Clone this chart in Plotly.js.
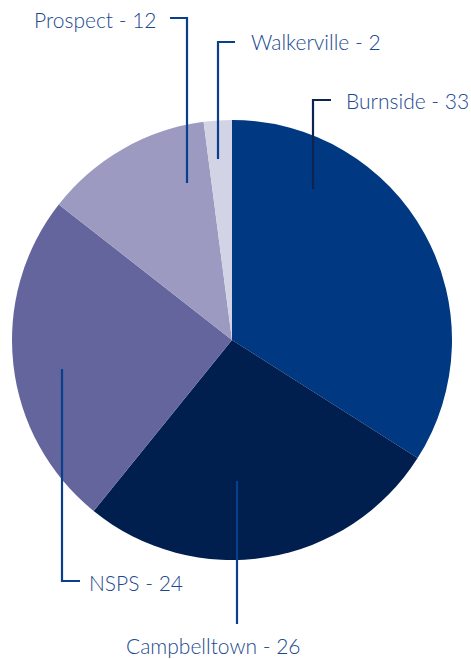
<!DOCTYPE html>
<html>
<head>
<meta charset="utf-8">
<script src="https://cdn.plot.ly/plotly-3.0.1.min.js"></script>
<style>html,body{margin:0;padding:0;background:#fff;}#chart{width:471px;height:659px;}</style>
</head>
<body>
<div id="chart"></div>
<script>
const labels = ["Burnside", "Campbelltown", "NSPS", "Prospect", "Walkerville"];
const values = [33, 26, 24, 12, 2];
const colors = ["#003882", "#001e4e", "#63659c", "#9c9ac1", "#d3d3e6"];

const W = 471, H = 659;
const px = x => x / W;
const py = y => 1 - y / H;
const lineColor = "#0a3f8c";
const textColor = "#1c4a8f";

// leader lines (pixel geometry), per label
const leaders = {
  "Burnside":     {pts: [[313,189],[313,100],[331,100]], color: "#0d2350", text: [344,100,"left"]},
  "Campbelltown": {pts: [[237,481],[237,624]], color: lineColor, text: [213,645,"center"]},
  "NSPS":         {pts: [[62,369],[62,581],[80,581]], color: lineColor, text: [87,582,"left"]},
  "Prospect":     {pts: [[187,183],[187,18],[170,18]], color: lineColor, text: [159,20,"right"]},
  "Walkerville":  {pts: [[218,159],[218,42],[235,42]], color: lineColor, text: [249,41,"left"]}
};

const shapes = [];
const annotations = [];
labels.forEach((lab, i) => {
  const L = leaders[lab];
  const d = "M" + L.pts.map(q => px(q[0]) + "," + py(q[1])).join(" L");
  shapes.push({type: "path", xref: "paper", yref: "paper", path: d,
    line: {color: L.color, width: 2.2}});
  annotations.push({xref: "paper", yref: "paper", x: px(L.text[0]), y: py(L.text[1]),
    xanchor: L.text[2], yanchor: "middle", showarrow: false,
    text: lab + " - " + values[i],
    font: {family: "Lato, 'Open Sans', sans-serif", size: 21, weight: 300, color: textColor}});
});

const data = [{
  type: "pie",
  labels: labels,
  values: values,
  marker: {colors: colors, line: {width: 0}},
  sort: false,
  direction: "clockwise",
  rotation: 0,
  textinfo: "none",
  hoverinfo: "label+value",
  domain: {x: [12 / W, 452 / W], y: [1 - 560 / H, 1 - 120 / H]}
}];

const layout = {
  width: W, height: H,
  margin: {l: 0, r: 0, t: 0, b: 0},
  showlegend: false,
  paper_bgcolor: "#ffffff",
  shapes: shapes,
  annotations: annotations
};

Plotly.newPlot("chart", data, layout, {displayModeBar: false, staticPlot: true});
</script>
</body>
</html>
